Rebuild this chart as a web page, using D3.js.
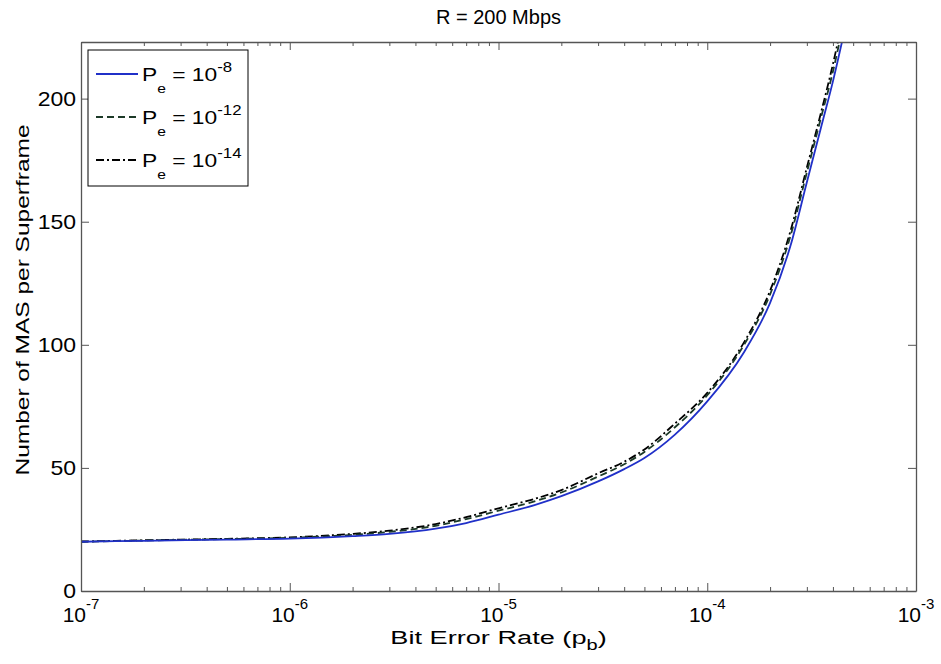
<!DOCTYPE html>
<html>
<head>
<meta charset="utf-8">
<script src="https://cdn.jsdelivr.net/npm/d3@7"></script>
<style>
  body { margin: 0; background: #fff; }
  svg { font-family: "Liberation Sans", Arial, Helvetica, sans-serif; }
</style>
</head>
<body>
<svg id="chart" width="941" height="664"></svg>
<script>
// bit error rate sample points (x)
const bitErrorRate = [1e-7, 2e-7, 5e-7, 1e-6, 2e-6, 3e-6, 5e-6, 7e-6, 1e-5, 1.5e-5, 2e-5, 3e-5,
  4e-5, 5e-5, 7e-5, 1e-4, 1.5e-4, 2e-4, 2.5e-4, 3e-4, 3.5e-4, 4e-4, 4.5e-4];
// MAS per superframe, one array per Pe
const masPe8 = [20, 20.4, 20.9, 21.3, 22.3, 23.2, 25.3, 27.6, 31, 35, 38.5, 44.5,
  49.5, 54, 63.5, 77, 97, 117, 140, 166, 188, 207, 226];
const masPe12 = [20, 20.5, 21.1, 21.6, 22.8, 24, 26.5, 29.2, 32.6, 36.5, 40, 46.5,
  51.5, 56.5, 66.5, 79.5, 100, 120.5, 144, 170, 192, 211, 231];
const masPe14 = [20.1, 20.6, 21.2, 21.8, 23.2, 24.5, 27.2, 30, 33.6, 37.5, 41, 47.8,
  52.5, 57.5, 68, 80.5, 101, 122, 146, 172, 194, 214, 234];

const seriesNames = ['-8', '-12', '-14'];
const yTicks = [0, 50, 100, 150, 200];
const xMajor = [1e-7, 1e-6, 1e-5, 1e-4, 1e-3];
const xExponents = ['-7', '-6', '-5', '-4', '-3'];

const MARGIN = { top: 42, right: 25, bottom: 73, left: 81 };
const width = 941, height = 664;
const axisColor = '#555';

const svg = d3.select('#chart');
const x = d3.scaleLog().domain([1e-7, 1e-3]).range([MARGIN.left, width - MARGIN.right]);
const y = d3.scaleLinear().domain([0, 223]).range([height - MARGIN.bottom, MARGIN.top]);

const xMinor = [];
for (let e = -7; e < -3; e++) for (let k = 2; k < 10; k++) xMinor.push(k * Math.pow(10, e));

svg.append('clipPath').attr('id', 'plot-clip')
  .append('rect')
  .attr('x', MARGIN.left).attr('y', MARGIN.top)
  .attr('width', width - MARGIN.left - MARGIN.right)
  .attr('height', height - MARGIN.top - MARGIN.bottom);

// curves
const series = [
  { values: masPe8, color: '#2030c8', dash: null, w: 1.8 },
  { values: masPe12, color: '#1c3a28', dash: '7,4', w: 1.8 },
  { values: masPe14, color: '#000', dash: '8,3,2,3', w: 1.8 },
];
const line = d3.line().x((d) => x(d[0])).y((d) => y(d[1])).curve(d3.curveMonotoneX);
const curves = svg.append('g').attr('clip-path', 'url(#plot-clip)');
series.slice().reverse().forEach((s) => {
  curves.append('path')
    .datum(bitErrorRate.map((b, i) => [b, s.values[i]]))
    .attr('d', line)
    .attr('fill', 'none')
    .attr('stroke', s.color)
    .attr('stroke-width', s.w)
    .attr('stroke-dasharray', s.dash);
});

// axes (inward ticks, boxed)
function styleAxis(g) {
  g.selectAll('path,line').attr('stroke', axisColor);
  g.select('.domain').attr('stroke-width', 1.3);
}
const bottom = height - MARGIN.bottom, right = width - MARGIN.right;
svg.append('g').attr('transform', `translate(0,${bottom})`)
  .call(d3.axisBottom(x).tickValues(xMajor).tickSizeInner(-8).tickSizeOuter(0).tickFormat(''))
  .call(styleAxis);
svg.append('g').attr('transform', `translate(0,${bottom})`)
  .call(d3.axisBottom(x).tickValues(xMinor).tickSizeInner(-4).tickSizeOuter(0).tickFormat(''))
  .call((g) => g.select('.domain').remove()).call(styleAxis);
svg.append('g').attr('transform', `translate(0,${MARGIN.top})`)
  .call(d3.axisTop(x).tickValues(xMajor).tickSizeInner(-8).tickSizeOuter(0).tickFormat(''))
  .call(styleAxis);
svg.append('g').attr('transform', `translate(0,${MARGIN.top})`)
  .call(d3.axisTop(x).tickValues(xMinor).tickSizeInner(-4).tickSizeOuter(0).tickFormat(''))
  .call((g) => g.select('.domain').remove()).call(styleAxis);
svg.append('g').attr('transform', `translate(${MARGIN.left},0)`)
  .call(d3.axisLeft(y).tickValues(yTicks).tickSizeInner(-8).tickSizeOuter(0))
  .call(styleAxis)
  .call((g) => g.selectAll('text')
    .attr('fill', '#000').attr('font-size', 20)
    .attr('x', 0).attr('transform', 'translate(-5,0) scale(1.15,1)'));
svg.append('g').attr('transform', `translate(${right},0)`)
  .call(d3.axisRight(y).tickValues(yTicks).tickSizeInner(-8).tickSizeOuter(0).tickFormat(''))
  .call(styleAxis);

// x tick labels 10^n
const xl = svg.append('g').selectAll('text').data(xMajor).join('text')
  .attr('x', (d) => x(d)).attr('y', 622)
  .attr('text-anchor', 'middle').attr('font-size', 21).attr('fill', '#000');
xl.append('tspan').text('10');
xl.append('tspan').attr('dy', -13).attr('font-size', 15).text((d, i) => xExponents[i]);

// title and axis labels
svg.append('text').attr('x', (MARGIN.left + right) / 2).attr('y', 24)
  .attr('text-anchor', 'middle').attr('font-size', 20).text('R = 200 Mbps');

const xLabel = svg.append('text')
  .attr('transform', `translate(${(MARGIN.left + right) / 2},644) scale(1.43,1)`)
  .attr('text-anchor', 'middle').attr('font-size', 19);
xLabel.append('tspan').text('Bit Error Rate (p');
xLabel.append('tspan').attr('dy', 6).attr('font-size', 14).text('b');
xLabel.append('tspan').attr('dy', -6).text(')');

svg.append('text')
  .attr('transform', 'translate(29,300) rotate(-90) scale(1.29,1)')
  .attr('text-anchor', 'middle').attr('font-size', 19)
  .text('Number of MAS per Superframe');

// legend
const legend = svg.append('g');
legend.append('rect').attr('x', 88).attr('y', 50).attr('width', 160).attr('height', 136)
  .attr('fill', '#fff').attr('stroke', '#000').attr('stroke-width', 1);
const rows = legend.selectAll('g.row').data(series).join('g')
  .attr('class', 'row').attr('transform', (d, i) => `translate(0,${74 + i * 43})`);
rows.append('line').attr('x1', 96).attr('x2', 138)
  .attr('stroke', (d) => d.color).attr('stroke-width', (d) => d.w)
  .attr('stroke-dasharray', (d) => d.dash);
const lt = rows.append('text').attr('transform', 'translate(142,7) scale(1.2,1)').attr('font-size', 19);
lt.append('tspan').text('P');
lt.append('tspan').attr('dy', 12).attr('font-size', 13).text('e');
lt.append('tspan').attr('dy', -12).text(' = 10');
lt.append('tspan').attr('dy', -9).attr('font-size', 14).text((d, i) => seriesNames[i]);
</script>
</body>
</html>
